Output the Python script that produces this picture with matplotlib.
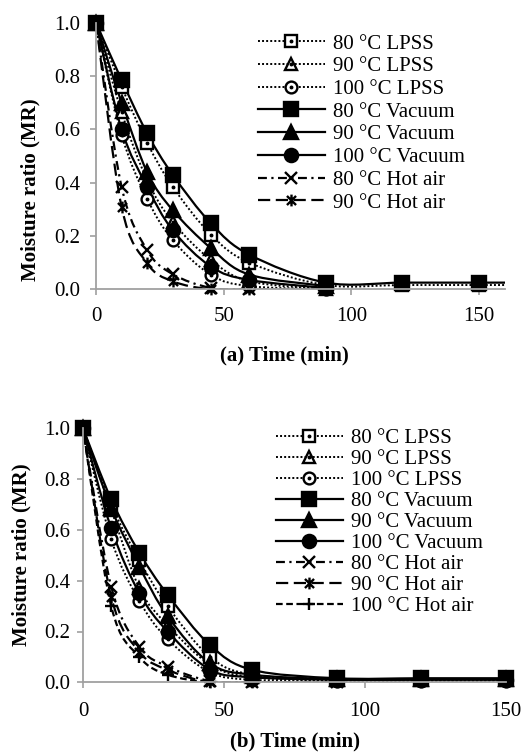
import numpy as np
import matplotlib
matplotlib.use("Agg")
import matplotlib.pyplot as plt
from matplotlib.path import Path
from matplotlib.patches import PathPatch
from matplotlib.lines import Line2D
from matplotlib.transforms import Bbox, TransformedBbox

plt.rcParams['font.family'] = ['Liberation Serif', 'DejaVu Serif']

# ---------------- data: panel (a) ----------------
t_a_80 = [0, 10, 20, 30, 45, 60, 90, 120, 150, 180]
lpss80_a = [1.0, 0.76, 0.55, 0.385, 0.205, 0.10, 0.016, 0.016, 0.016, 0.016]
vac80_a = [1.0, 0.785, 0.585, 0.43, 0.247, 0.13, 0.025, 0.025, 0.025, 0.025]
t_a_90 = [0, 10, 20, 30, 45, 60, 90]
lpss90_a = [1.0, 0.665, 0.41, 0.253, 0.11, 0.03, 0.0]
lpss100_a = [1.0, 0.58, 0.34, 0.185, 0.054, 0.012, 0.0]
vac90_a = [1.0, 0.70, 0.44, 0.297, 0.154, 0.055, 0.012]
vac100_a = [1.0, 0.60, 0.385, 0.222, 0.085, 0.035, 0.005]
t_a_hot80 = [0, 10, 20, 30, 45, 60, 90]
hot80_a = [1.0, 0.385, 0.147, 0.057, 0.005, 0.0, 0.0]
t_a_hot90 = [0, 10, 20, 30, 45, 60]
hot90_a = [1.0, 0.31, 0.098, 0.03, 0.0, 0.0]

# ---------------- data: panel (b) ----------------
t_b = [0, 10, 20, 30, 45, 60, 90, 120, 150]
lpss80_b = [1.0, 0.70, 0.48, 0.30, 0.10, 0.03, 0.012, 0.012, 0.012]
lpss90_b = [1.0, 0.68, 0.37, 0.225, 0.07, 0.02, 0.008, 0.008, 0.008]
lpss100_b = [1.0, 0.563, 0.32, 0.17, 0.04, 0.01, 0.006, 0.006, 0.006]
vac80_b = [1.0, 0.72, 0.51, 0.345, 0.147, 0.049, 0.016, 0.016, 0.016]
vac90_b = [1.0, 0.685, 0.455, 0.26, 0.075, 0.03, 0.012, 0.012, 0.012]
vac100_b = [1.0, 0.606, 0.35, 0.20, 0.05, 0.02, 0.01, 0.01, 0.01]
t_b_hot80 = [0, 10, 20, 30, 45, 60, 90]
hot80_b = [1.0, 0.377, 0.14, 0.062, 0.005, 0.0, 0.0]
t_b_hot = [0, 10, 20, 30, 45, 60]
hot90_b = [1.0, 0.337, 0.12, 0.049, 0.0, 0.0]
hot100_b = [1.0, 0.30, 0.10, 0.03, 0.0, 0.0]

xticks_a = [0, 50, 100, 150]
xticks_b = [0, 50, 100, 150]
yticks = [0.0, 0.2, 0.4, 0.6, 0.8, 1.0]

GRAY = '#a0a0a0'
TICK_FS = 15
LEG_FS = 15
LAB_FS = 15

# custom asterisk marker (X plus vertical bar)
STAR = Path([(-1, -1), (1, 1), (-1, 1), (1, -1), (0, -1.3), (0, 1.3)],
            [Path.MOVETO, Path.LINETO, Path.MOVETO, Path.LINETO, Path.MOVETO, Path.LINETO])

DOT = (0, (1, 1.1))
DASHDOT = (0, (4, 2, 1, 2))
LONGDASH = (0, (5.5, 2.5))
SHORTDASH = (0, (3, 1.6))

STYLES = {
    'lpss80': dict(ls=DOT, lw=1.4, marker='s', filled=False, ms=8.5),
    'lpss90': dict(ls=DOT, lw=1.4, marker='^', filled=False, ms=8.5),
    'lpss100': dict(ls=DOT, lw=1.4, marker='o', filled=False, ms=8.5),
    'vac80': dict(ls='-', lw=1.6, marker='s', filled=True, ms=9.5),
    'vac90': dict(ls='-', lw=1.6, marker='^', filled=True, ms=9.5),
    'vac100': dict(ls='-', lw=1.6, marker='o', filled=True, ms=9.5),
    'hot80': dict(ls=DASHDOT, lw=1.6, marker='x', filled=True, ms=8),
    'hot90': dict(ls=LONGDASH, lw=1.6, marker=STAR, filled=True, ms=8.5),
    'hot100': dict(ls=SHORTDASH, lw=1.6, marker='+', filled=True, ms=9),
}


def smooth_path(x, y):
    pts = np.column_stack([np.asarray(x, float), np.asarray(y, float)])
    n = len(pts)
    verts = [pts[0]]
    codes = [Path.MOVETO]
    for i in range(n - 1):
        p0 = pts[i - 1] if i > 0 else pts[i]
        p1 = pts[i]
        p2 = pts[i + 1]
        p3 = pts[i + 2] if i + 2 < n else pts[i + 1]
        c1 = p1 + (p2 - p0) / 6.0
        c2 = p2 - (p3 - p1) / 6.0
        verts += [c1, c2, p2]
        codes += [Path.CURVE4] * 3
    return Path(verts, codes)


def marker_kw(st):
    kw = dict(marker=st['marker'], markersize=st['ms'], color='black')
    if st['filled']:
        kw.update(markerfacecolor='black', markeredgecolor='black', markeredgewidth=1.7)
    else:
        kw.update(markerfacecolor='white', markeredgecolor='black', markeredgewidth=1.7)
    return kw


def draw_series(ax, x, y, key, clipbox):
    st = STYLES[key]
    patch = PathPatch(smooth_path(x, y), facecolor='none', edgecolor='black',
                      lw=st['lw'], linestyle=st['ls'])
    ax.add_patch(patch)
    ln, = ax.plot(x, y, linestyle='none', **marker_kw(st))
    ln.set_clip_box(clipbox)
    if not st['filled']:
        d, = ax.plot(x, y, linestyle='none', marker='o', markersize=1.8, color='black')
        d.set_clip_box(clipbox)


def legend_handle(key):
    st = STYLES[key]
    h = Line2D([], [], linestyle=st['ls'], lw=st['lw'], **marker_kw(st))
    if not st['filled']:
        d = Line2D([], [], linestyle='none', marker='o', markersize=1.8, color='black')
        return (h, d)
    return h


def style_axes(ax, xmax, xticks, xpad, ypad):
    ax.set_xlim(0, xmax)
    ax.set_ylim(0, 1.0)
    for s in ['top', 'right']:
        ax.spines[s].set_visible(False)
    for s in ['left', 'bottom']:
        ax.spines[s].set_color(GRAY)
        ax.spines[s].set_linewidth(1.3)
    ax.set_xticks(xticks)
    ax.set_yticks(yticks)
    ax.set_yticklabels([f'{v:.1f}' for v in yticks])
    ax.set_xticklabels([str(v) for v in xticks])
    ax.tick_params(direction='out', length=4, width=1.2, color=GRAY,
                   labelsize=TICK_FS, labelcolor='black')
    ax.tick_params(axis='y', pad=ypad)
    ax.tick_params(axis='x', pad=xpad)


W, H = 527, 753
fig = plt.figure(figsize=(W / 100, H / 100), dpi=100)

# ---------------- panel (a) ----------------
ax1 = fig.add_axes([96 / W, 1 - 289.3 / H, (504.6 - 96) / W, 266.7 / H])
style_axes(ax1, 160, xticks_a, xpad=8.5, ypad=7.5)
clip1 = TransformedBbox(Bbox([[-0.05, -0.1], [1.0, 1.1]]), ax1.transAxes)
series_a = [
    (t_a_80, lpss80_a, 'lpss80', '80 °C LPSS'),
    (t_a_90, lpss90_a, 'lpss90', '90 °C LPSS'),
    (t_a_90, lpss100_a, 'lpss100', '100 °C LPSS'),
    (t_a_80, vac80_a, 'vac80', '80 °C Vacuum'),
    (t_a_90, vac90_a, 'vac90', '90 °C Vacuum'),
    (t_a_90, vac100_a, 'vac100', '100 °C Vacuum'),
    (t_a_hot80, hot80_a, 'hot80', '80 °C Hot air'),
    (t_a_hot90, hot90_a, 'hot90', '90 °C Hot air'),
]
for x, y, k, lab in series_a:
    draw_series(ax1, x, y, k, clip1)
ax1.legend([legend_handle(k) for _, _, k, _ in series_a], [lab for *_, lab in series_a],
           loc='upper left', bbox_to_anchor=(258 / W, 1 - 34 / H), bbox_transform=fig.transFigure,
           frameon=False, fontsize=LEG_FS, handlelength=3.2, handletextpad=0.4,
           labelspacing=0.15, borderpad=0, borderaxespad=0, numpoints=1)
fig.text(284 / W, 1 - 355 / H, '(a) Time (min)', ha='center', va='center',
         fontsize=LAB_FS, fontweight='bold')
fig.text(30 / W, 1 - 190 / H, 'Moisture ratio (MR)', ha='center', va='center',
         rotation=90, fontsize=LAB_FS, fontweight='bold')

# ---------------- panel (b) ----------------
ax2 = fig.add_axes([83 / W, 1 - 682.3 / H, 423 / W, 254 / H])
style_axes(ax2, 150, xticks_b, xpad=10, ypad=5.3)
clip2 = TransformedBbox(Bbox([[-0.05, -0.1], [1.05, 1.1]]), ax2.transAxes)
series_b = [
    (t_b, lpss80_b, 'lpss80', '80 °C LPSS'),
    (t_b, lpss90_b, 'lpss90', '90 °C LPSS'),
    (t_b, lpss100_b, 'lpss100', '100 °C LPSS'),
    (t_b, vac80_b, 'vac80', '80 °C Vacuum'),
    (t_b, vac90_b, 'vac90', '90 °C Vacuum'),
    (t_b, vac100_b, 'vac100', '100 °C Vacuum'),
    (t_b_hot80, hot80_b, 'hot80', '80 °C Hot air'),
    (t_b_hot, hot90_b, 'hot90', '90 °C Hot air'),
    (t_b_hot, hot100_b, 'hot100', '100 °C Hot air'),
]
for x, y, k, lab in series_b:
    draw_series(ax2, x, y, k, clip2)
ax2.legend([legend_handle(k) for _, _, k, _ in series_b], [lab for *_, lab in series_b],
           loc='upper left', bbox_to_anchor=(276 / W, 1 - 428.5 / H), bbox_transform=fig.transFigure,
           frameon=False, fontsize=LEG_FS, handlelength=3.2, handletextpad=0.4,
           labelspacing=0.07, borderpad=0, borderaxespad=0, numpoints=1)
fig.text(295 / W, 1 - 741.7 / H, '(b) Time (min)', ha='center', va='center',
         fontsize=LAB_FS, fontweight='bold')
fig.text(21.7 / W, 1 - 555 / H, 'Moisture ratio (MR)', ha='center', va='center',
         rotation=90, fontsize=LAB_FS, fontweight='bold')

fig.savefig('out.png', dpi=100)
